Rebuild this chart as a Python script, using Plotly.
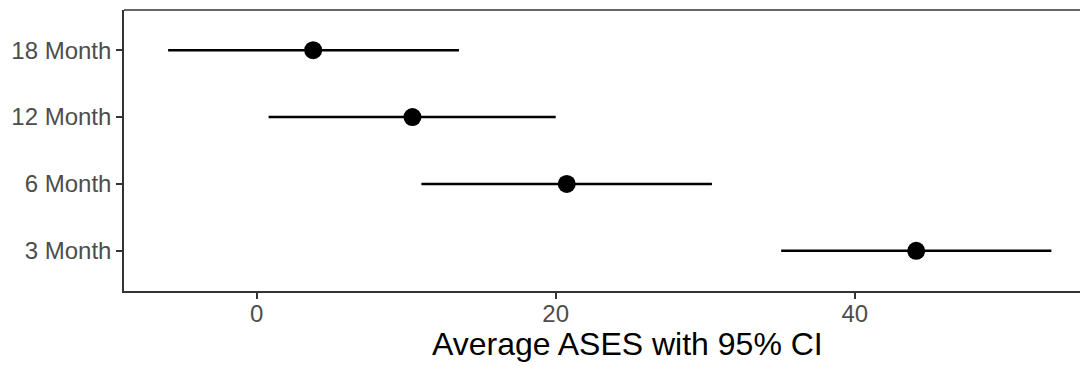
import plotly.graph_objects as go

categories = ["3 Month", "6 Month", "12 Month", "18 Month"]
means = [44.11, 20.74, 10.42, 3.78]
lower = [35.08, 11.02, 0.80, -5.92]
upper = [53.15, 30.45, 20.00, 13.53]
x_title = "Average ASES with 95% CI"

err_plus = [u - m for u, m in zip(upper, means)]
err_minus = [m - l for m, l in zip(means, lower)]

fig = go.Figure()
fig.add_trace(go.Scatter(
    x=means, y=categories, mode="markers",
    marker=dict(color="black", size=18),
    error_x=dict(type="data", symmetric=False, array=err_plus, arrayminus=err_minus,
                 color="black", thickness=2.5, width=0),
    showlegend=False,
))

font = "Liberation Sans, Arial, sans-serif"
fig.update_layout(
    width=1080, height=358,
    margin=dict(l=116, r=0, t=2, b=75),
    plot_bgcolor="white", paper_bgcolor="white",
    font=dict(family=font),
    xaxis=dict(
        range=[-8.87, 55.6], tickvals=[0, 20, 40], ticks="outside", ticklen=6,
        tickwidth=1.6, tickcolor="#333333", showgrid=False, zeroline=False,
        showline=True, linecolor="#333333", linewidth=1.6,
        ticklabelstandoff=-6,
        tickfont=dict(size=24, color="#4D4D4D", family=font),
    ),
    yaxis=dict(
        type="category", categoryorder="array", categoryarray=categories,
        range=[-0.6, 3.6], ticks="outside", ticklen=6, tickwidth=1.6, tickcolor="#333333",
        showgrid=False, zeroline=False, showline=True, linecolor="#333333", linewidth=1.6,
        tickfont=dict(size=24, color="#4D4D4D", family=font),
    ),
    shapes=[dict(type="line", xref="paper", yref="paper", x0=0, x1=1, y0=1, y1=1,
                 line=dict(color="#333333", width=1.6))],
    annotations=[dict(text=x_title, xref="paper", yref="paper", x=0.5228, y=0,
                      xanchor="center", yanchor="middle", yshift=-53, showarrow=False,
                      font=dict(size=32, color="black", family=font))],
)

fig.write_html("out.html")
